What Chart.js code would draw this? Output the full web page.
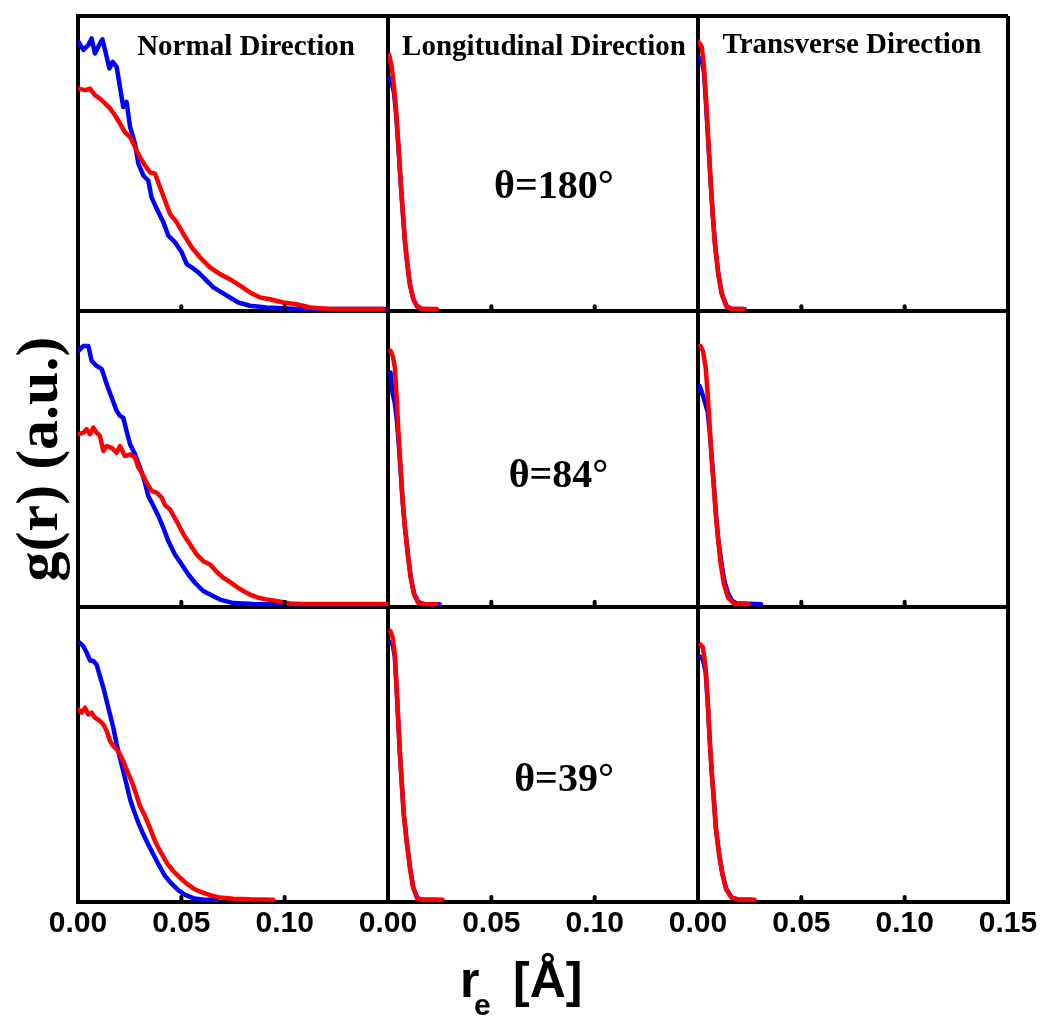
<!DOCTYPE html>
<html><head><meta charset="utf-8">
<script src="https://cdn.jsdelivr.net/npm/chart.js@4.4.1/dist/chart.umd.min.js"></script>
<style>html,body{margin:0;padding:0;background:#fff;}canvas{display:block;}</style>
</head><body>
<canvas id="c" width="1045" height="1017"></canvas>
<script>
// ---------- data (r in Å, g(r) in arbitrary units, 0..1 per panel) ----------
// Normal direction, θ=180°
const r_N180_blue = [0.0002,0.0026,0.0050,0.0066,0.0082,0.0098,0.0118,0.0135,0.0152,0.0168,0.0187,0.0203,0.0219,0.0235,0.0252,0.0276,0.0292,0.0316,0.0340,0.0356,0.0381,0.0413,0.0437,0.0469,0.0502,0.0526,0.0550,0.0582,0.0615,0.0655,0.0695,0.0735,0.0776,0.0832,0.0913,0.1058,0.1348,0.1494];
const g_N180_blue = [0.913,0.885,0.902,0.924,0.873,0.896,0.921,0.873,0.822,0.845,0.828,0.760,0.692,0.709,0.624,0.568,0.500,0.460,0.443,0.386,0.347,0.302,0.256,0.234,0.200,0.160,0.149,0.132,0.109,0.081,0.064,0.047,0.030,0.019,0.013,0.008,0.008,0.008];
const r_N180_red = [0.0002,0.0034,0.0058,0.0082,0.0106,0.0131,0.0155,0.0179,0.0203,0.0227,0.0252,0.0276,0.0300,0.0324,0.0348,0.0373,0.0397,0.0421,0.0445,0.0477,0.0510,0.0550,0.0590,0.0639,0.0687,0.0735,0.0784,0.0832,0.0881,0.0929,0.0993,0.1058,0.1123,0.1219,0.1477];
const g_N180_red = [0.754,0.749,0.754,0.732,0.720,0.704,0.687,0.664,0.636,0.607,0.590,0.556,0.522,0.494,0.471,0.466,0.420,0.375,0.330,0.302,0.262,0.217,0.183,0.149,0.126,0.109,0.087,0.064,0.047,0.041,0.030,0.024,0.013,0.008,0.008];
// Normal direction, θ=84°
const r_N84_blue = [0.0002,0.0026,0.0050,0.0066,0.0090,0.0115,0.0126,0.0142,0.0163,0.0187,0.0203,0.0219,0.0235,0.0252,0.0276,0.0300,0.0324,0.0340,0.0365,0.0389,0.0413,0.0437,0.0469,0.0502,0.0534,0.0566,0.0606,0.0639,0.0687,0.0752,0.0848,0.1010,0.1494];
const g_N84_blue = [0.866,0.883,0.883,0.832,0.815,0.804,0.781,0.747,0.708,0.663,0.646,0.640,0.595,0.550,0.516,0.471,0.420,0.375,0.341,0.307,0.267,0.222,0.177,0.143,0.109,0.081,0.053,0.041,0.024,0.012,0.009,0.008,0.008];
const r_N84_red = [0.0002,0.0026,0.0042,0.0058,0.0074,0.0090,0.0106,0.0123,0.0139,0.0163,0.0187,0.0203,0.0227,0.0252,0.0276,0.0292,0.0308,0.0332,0.0356,0.0381,0.0405,0.0421,0.0445,0.0477,0.0510,0.0542,0.0574,0.0606,0.0639,0.0671,0.0703,0.0735,0.0768,0.0800,0.0832,0.0865,0.0913,0.0961,0.1026,0.1090,0.1494];
const g_N84_red = [0.584,0.589,0.601,0.584,0.606,0.589,0.578,0.527,0.544,0.538,0.521,0.544,0.510,0.516,0.504,0.471,0.454,0.420,0.392,0.386,0.369,0.344,0.329,0.290,0.245,0.211,0.177,0.154,0.143,0.118,0.098,0.084,0.067,0.053,0.041,0.032,0.024,0.019,0.011,0.009,0.009];
// Normal direction, θ=39°
const r_N39_blue = [0.0010,0.0026,0.0042,0.0058,0.0074,0.0090,0.0106,0.0123,0.0139,0.0155,0.0171,0.0187,0.0203,0.0219,0.0235,0.0252,0.0268,0.0292,0.0316,0.0340,0.0365,0.0389,0.0421,0.0453,0.0485,0.0518,0.0558,0.0606,0.0671];
const g_N39_blue = [0.877,0.866,0.844,0.818,0.816,0.804,0.765,0.725,0.680,0.635,0.590,0.534,0.488,0.443,0.398,0.348,0.314,0.268,0.229,0.195,0.161,0.128,0.088,0.062,0.040,0.024,0.013,0.008,0.008];
const r_N39_red = [0.0002,0.0018,0.0034,0.0050,0.0066,0.0082,0.0106,0.0123,0.0139,0.0155,0.0171,0.0187,0.0203,0.0219,0.0235,0.0252,0.0268,0.0284,0.0300,0.0324,0.0348,0.0373,0.0397,0.0429,0.0461,0.0494,0.0526,0.0558,0.0590,0.0639,0.0687,0.0752,0.0832,0.0945];
const g_N39_red = [0.652,0.641,0.658,0.635,0.641,0.624,0.613,0.601,0.579,0.545,0.528,0.517,0.500,0.477,0.449,0.421,0.393,0.359,0.325,0.291,0.251,0.206,0.173,0.133,0.105,0.082,0.062,0.046,0.035,0.023,0.015,0.011,0.009,0.008];
// Longitudinal direction
const r_L180_red = [0.0006,0.0018,0.0029,0.0039,0.0050,0.0061,0.0071,0.0082,0.0094,0.0106,0.0123,0.0139,0.0163,0.0236];
const g_L180_red = [0.868,0.828,0.760,0.681,0.568,0.443,0.341,0.239,0.160,0.092,0.041,0.019,0.008,0.008];
const r_L180_blue = [0.0006,0.0018,0.0029,0.0039,0.0050,0.0061,0.0071,0.0082,0.0094,0.0106,0.0123,0.0139,0.0163,0.0200];
const g_L180_blue = [0.790,0.775,0.740,0.670,0.560,0.440,0.340,0.235,0.155,0.090,0.040,0.018,0.008,0.008];
const r_L84_red = [0.0012,0.0023,0.0033,0.0043,0.0051,0.0061,0.0071,0.0082,0.0096,0.0110,0.0126,0.0146,0.0175,0.0234];
const g_L84_red = [0.866,0.849,0.810,0.697,0.584,0.471,0.358,0.267,0.177,0.098,0.041,0.013,0.009,0.008];
const r_L84_blue = [0.0012,0.0023,0.0033,0.0043,0.0051,0.0061,0.0071,0.0082,0.0096,0.0110,0.0126,0.0146,0.0175,0.0250];
const g_L84_blue = [0.793,0.719,0.690,0.630,0.560,0.460,0.355,0.270,0.180,0.100,0.045,0.016,0.009,0.008];
const r_L39_red = [0.0012,0.0023,0.0033,0.0041,0.0049,0.0057,0.0067,0.0076,0.0090,0.0106,0.0122,0.0142,0.0165,0.0264];
const g_L39_red = [0.917,0.894,0.838,0.737,0.624,0.511,0.398,0.297,0.206,0.116,0.048,0.011,0.008,0.008];
const r_L39_blue = [0.0012,0.0023,0.0033,0.0041,0.0049,0.0057,0.0067,0.0076,0.0090,0.0106,0.0122,0.0142,0.0165,0.0240];
const g_L39_blue = [0.880,0.870,0.830,0.730,0.620,0.510,0.400,0.300,0.210,0.120,0.050,0.013,0.008,0.008];
// Transverse direction
const r_T180_red = [0.0002,0.0018,0.0029,0.0039,0.0050,0.0061,0.0071,0.0082,0.0098,0.0115,0.0139,0.0163,0.0219];
const g_T180_red = [0.913,0.896,0.828,0.715,0.579,0.443,0.330,0.228,0.126,0.058,0.015,0.008,0.008];
const r_T180_blue = [0.0002,0.0018,0.0029,0.0039,0.0050,0.0061,0.0071,0.0082,0.0098,0.0115,0.0139,0.0163,0.0225];
const g_T180_blue = [0.860,0.850,0.810,0.700,0.570,0.440,0.330,0.230,0.130,0.060,0.017,0.008,0.008];
const r_T84_red = [0.0012,0.0024,0.0037,0.0047,0.0057,0.0067,0.0077,0.0086,0.0098,0.0110,0.0126,0.0146,0.0175,0.0244];
const g_T84_red = [0.883,0.866,0.810,0.719,0.606,0.493,0.403,0.313,0.222,0.143,0.075,0.030,0.010,0.008];
const r_T84_blue = [0.0008,0.0027,0.0047,0.0057,0.0067,0.0077,0.0086,0.0098,0.0116,0.0130,0.0146,0.0165,0.0185,0.0305];
const g_T84_blue = [0.747,0.708,0.660,0.590,0.500,0.410,0.320,0.230,0.135,0.080,0.045,0.020,0.012,0.008];
const r_T39_red = [0.0012,0.0024,0.0037,0.0047,0.0057,0.0067,0.0077,0.0086,0.0102,0.0118,0.0136,0.0162,0.0195,0.0274];
const g_T39_red = [0.872,0.861,0.793,0.680,0.545,0.432,0.342,0.251,0.161,0.094,0.043,0.015,0.008,0.008];
const r_T39_blue = [0.0012,0.0024,0.0037,0.0047,0.0057,0.0067,0.0077,0.0086,0.0102,0.0118,0.0136,0.0162,0.0195,0.0260];
const g_T39_blue = [0.830,0.820,0.780,0.675,0.545,0.435,0.345,0.255,0.165,0.097,0.046,0.016,0.008,0.008];

// tick values and labels
const xTickValues = [0, 0.05, 0.10, 0.15];
const innerTickValues = [0.05, 0.10];
const directions = ['Normal Direction', 'Longitudinal Direction', 'Transverse Direction'];
const angleLabels = ['θ=180°', 'θ=84°', 'θ=39°'];

// ---------- build datasets ----------
const BLUE = '#0000ff', RED = '#ff0000';
const seriesTable = [
  ['x1','y1',r_N180_blue,g_N180_blue,BLUE],['x1','y1',r_N180_red,g_N180_red,RED],
  ['x1','y2',r_N84_blue,g_N84_blue,BLUE],['x1','y2',r_N84_red,g_N84_red,RED],
  ['x1','y3',r_N39_blue,g_N39_blue,BLUE],['x1','y3',r_N39_red,g_N39_red,RED],
  ['x2','y1',r_L180_blue,g_L180_blue,BLUE],['x2','y1',r_L180_red,g_L180_red,RED],
  ['x2','y2',r_L84_blue,g_L84_blue,BLUE],['x2','y2',r_L84_red,g_L84_red,RED],
  ['x2','y3',r_L39_blue,g_L39_blue,BLUE],['x2','y3',r_L39_red,g_L39_red,RED],
  ['x3','y1',r_T180_blue,g_T180_blue,BLUE],['x3','y1',r_T180_red,g_T180_red,RED],
  ['x3','y2',r_T84_blue,g_T84_blue,BLUE],['x3','y2',r_T84_red,g_T84_red,RED],
  ['x3','y3',r_T39_blue,g_T39_blue,BLUE],['x3','y3',r_T39_red,g_T39_red,RED]
];
const datasets = seriesTable.map(([xa, ya, r, g, col]) => ({
  type: 'line',
  data: r.map((v, i) => ({x: v, y: g[i]})),
  xAxisID: xa, yAxisID: ya,
  borderColor: col, backgroundColor: col,
  borderWidth: 4.5, pointRadius: 0, tension: 0, fill: false,
  borderJoinStyle: 'round', borderCapStyle: 'round',
  order: col === RED ? 0 : 1
}));

const isEdge = v => v < 1e-9 || v > 0.149;
function xScale(i) {
  return {
    type: 'linear', position: 'bottom', stack: 'cols', stackWeight: 1, weight: i,
    min: 0, max: 0.15,
    afterBuildTicks: s => { s.ticks = xTickValues.map(v => ({value: v})); },
    ticks: {
      autoSkip: false, maxRotation: 0, minRotation: 0, padding: 4, color: '#000',
      font: {family: '"Liberation Sans", Arial, sans-serif', size: 30, weight: 'bold'},
      callback: v => (i < 2 && v > 0.149) ? '' : Number(v).toFixed(2)
    },
    grid: {
      drawTicks: false, drawOnChartArea: true, lineWidth: 4,
      color: c => (c.tick && isEdge(c.tick.value)) ? '#000' : 'rgba(0,0,0,0)'
    },
    border: {display: true, width: 4, color: '#000'}
  };
}
function yScale(i) {
  return {
    type: 'linear', position: 'left', stack: 'rows', stackWeight: 1, weight: 2 - i,
    min: 0, max: 1,
    afterBuildTicks: s => { s.ticks = [{value: 0}, {value: 1}]; },
    ticks: {display: false},
    grid: {drawTicks: false, lineWidth: 4, color: '#000'},
    border: {display: true, width: 4, color: '#000'}
  };
}

// ---------- annotation plugin (text + inward tick nubs) ----------
const titleAnchor = [0.0813, 0.0755, 0.0745];
const titleLevel = [0.868, 0.868, 0.874];
const angleAnchor = [0.0803, 0.0825, 0.0852];
const angleLevel = [0.385, 0.405, 0.376];
const decor = {
  id: 'decor',
  afterDraw(chart) {
    const ctx = chart.ctx;
    const xs = ['x1','x2','x3'].map(k => chart.scales[k]);
    const ys = ['y1','y2','y3'].map(k => chart.scales[k]);
    ctx.save();
    // inward minor tick nubs at each panel bottom
    ctx.strokeStyle = '#000'; ctx.lineWidth = 4; ctx.lineCap = 'round';
    ys.forEach(sy => {
      const yb = sy.getPixelForValue(0);
      xs.forEach(sx => innerTickValues.forEach(v => {
        const px = sx.getPixelForValue(v);
        ctx.beginPath(); ctx.moveTo(px, yb - 2); ctx.lineTo(px, yb - 5); ctx.stroke();
      }));
    });
    ctx.fillStyle = '#000';
    ctx.textBaseline = 'alphabetic';
    // column titles
    ctx.textAlign = 'center';
    ctx.font = 'bold 29px "Liberation Serif", "Times New Roman", serif';
    directions.forEach((t, c) => {
      ctx.fillText(t, xs[c].getPixelForValue(titleAnchor[c]), ys[0].getPixelForValue(titleLevel[c]));
    });
    // angle labels
    ctx.font = 'bold 40px "Liberation Serif", "Times New Roman", serif';
    angleLabels.forEach((t, r) => {
      ctx.fillText(t, xs[1].getPixelForValue(angleAnchor[r]), ys[r].getPixelForValue(angleLevel[r]));
    });
    // x-axis title r_e [Å]
    ctx.textAlign = 'left';
    ctx.font = 'bold 50px "Liberation Sans", Arial, sans-serif';
    ctx.fillText('r', 460, 997);
    ctx.font = 'bold 30px "Liberation Sans", Arial, sans-serif';
    ctx.fillText('e', 474, 1015);
    ctx.font = 'bold 50px "Liberation Sans", Arial, sans-serif';
    ctx.fillText('[Å]', 513, 997);
    // y-axis title
    ctx.translate(57, 459);
    ctx.rotate(-Math.PI / 2);
    ctx.textAlign = 'center';
    ctx.font = 'bold 60px "Liberation Serif", "Times New Roman", serif';
    ctx.fillText('g(r) (a.u.)', 0, 0);
    ctx.restore();
  }
};

new Chart(document.getElementById('c'), {
  type: 'line',
  data: {datasets},
  options: {
    responsive: false, devicePixelRatio: 1, animation: false,
    layout: {padding: {left: 78, right: 37, top: 16, bottom: 71}},
    plugins: {legend: {display: false}, tooltip: {enabled: false}},
    scales: {
      x1: xScale(0), x2: xScale(1), x3: xScale(2),
      y1: yScale(0), y2: yScale(1), y3: yScale(2)
    }
  },
  plugins: [decor]
});
</script>
</body></html>
